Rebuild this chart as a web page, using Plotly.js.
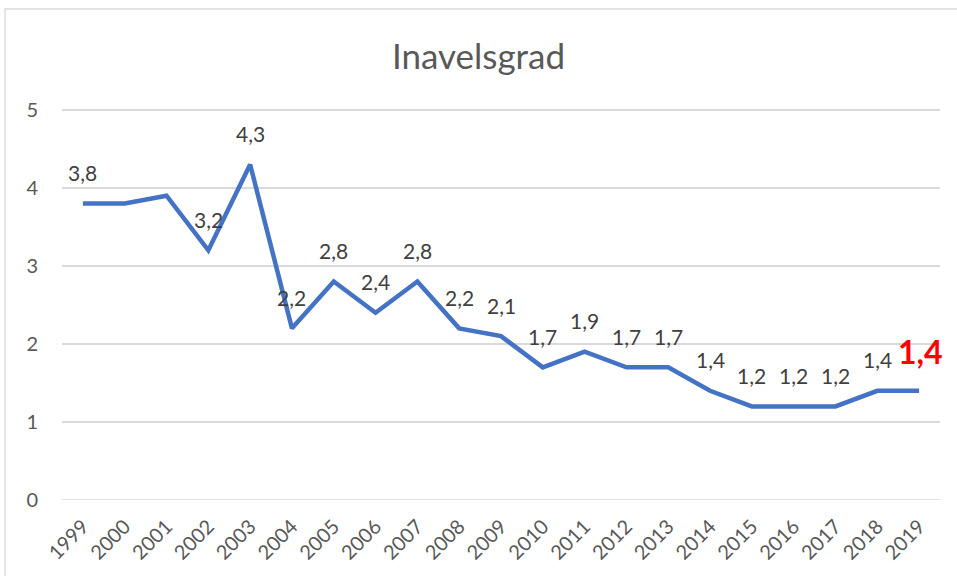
<!DOCTYPE html>
<html>
<head>
<meta charset="utf-8">
<script src="https://cdn.plot.ly/plotly-3.0.1.min.js"></script>
<style>html,body{margin:0;padding:0;background:#fff;}#chart{width:957px;height:576px;}</style>
</head>
<body>
<div id="chart"></div>
<script>
const years = ['1999','2000','2001','2002','2003','2004','2005','2006','2007','2008','2009','2010','2011','2012','2013','2014','2015','2016','2017','2018','2019'];
const values = [3.8,3.8,3.9,3.2,4.3,2.2,2.8,2.4,2.8,2.2,2.1,1.7,1.9,1.7,1.7,1.4,1.2,1.2,1.2,1.4,1.4];
const labels = ['3,8','','','3,2','4,3','2,2','2,8','2,4','2,8','2,2','2,1','1,7','1,9','1,7','1,7','1,4','1,2','1,2','1,2','1,4',''];
const highlightYear = '2019';
const highlightLabel = '1,4';
const yTicks = [0,1,2,3,4,5];

const FONT = 'Lato, "Open Sans", sans-serif';

const annotations = [];
years.forEach((y,i)=>{
  if(labels[i]){
    annotations.push({x:i, y:values[i], xref:'x', yref:'y', text:labels[i], showarrow:false,
      yshift:31, font:{family:FONT, size:21, color:'#404040'}});
  }
});
const hi = years.indexOf(highlightYear);
annotations.push({x:hi, y:values[hi], xref:'x', yref:'y', text:'<b>'+highlightLabel+'</b>', showarrow:false,
  yshift:39, xshift:1, font:{family:FONT, size:32, color:'#ff0000'}});

const trace = {
  x: years, y: values, type:'scatter', mode:'lines',
  line:{color:'#4472C4', width:4.5}, hoverinfo:'none', cliponaxis:false
};

const layout = {
  width:957, height:576,
  margin:{l:62, r:17, t:106, b:76},
  paper_bgcolor:'#fff', plot_bgcolor:'#fff',
  showlegend:false,
  title:{text:'Inavelsgrad', x:0.5, xanchor:'center', y:0.902, yanchor:'middle',
    font:{family:FONT, size:35, color:'#595959'}},
  xaxis:{type:'category', range:[-0.5, years.length-0.5], tickangle:-45, showgrid:false, zeroline:false,
    showline:false, ticks:'', ticklabelstandoff:10, tickfont:{family:FONT, size:20, color:'#595959'}, fixedrange:true},
  yaxis:{range:[0,5.05], tickvals:yTicks, ticktext:yTicks.map(String), showgrid:true, gridcolor:'#d9d9d9', gridwidth:1.3,
    zeroline:false, showline:false, ticks:'', ticklabelstandoff:23,
    tickfont:{family:FONT, size:20, color:'#595959'}, fixedrange:true},
  annotations: annotations,
  shapes:[
    {type:'line', xref:'paper', yref:'y', x0:0, x1:1, y0:0, y1:0, line:{color:'#d9d9d9', width:1.3}},
    {type:'rect', xref:'paper', yref:'paper', x0:-0.0649, x1:1.1, y0:-0.3, y1:1.2462, line:{color:'#d9d9d9', width:1.3}, fillcolor:'rgba(0,0,0,0)', layer:'below'}
  ]
};

Plotly.newPlot('chart', [trace], layout, {displayModeBar:false, staticPlot:true});
</script>
</body>
</html>
